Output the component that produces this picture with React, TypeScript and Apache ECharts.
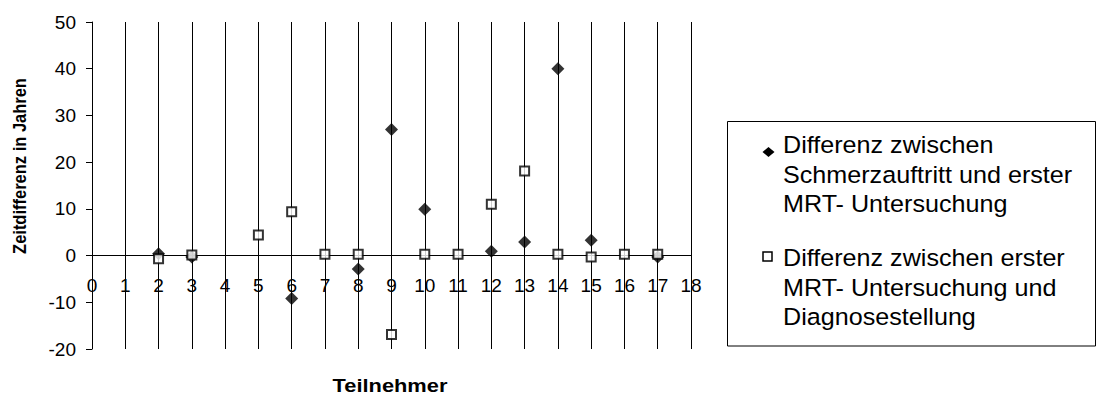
import React, { useEffect, useRef } from "react";
import * as echarts from "echarts";

// Participant numbers and time differences (years)
const painToMriParticipants = [2, 3, 6, 8, 9, 10, 12, 13, 14, 15, 17];
const painToMriYears = [0.4, -0.3, -9.2, -2.9, 27, 9.9, 0.9, 2.9, 40, 3.3, -0.3];

const mriToDiagnosisParticipants = [2, 3, 5, 6, 7, 8, 9, 10, 11, 12, 13, 14, 15, 16, 17];
const mriToDiagnosisYears = [-0.7, 0.1, 4.4, 9.4, 0.3, 0.3, -16.9, 0.3, 0.3, 11, 18.1, 0.3, -0.3, 0.3, 0.3];

const legendLabels = [
  "Differenz zwischen\nSchmerzauftritt und erster\nMRT- Untersuchung",
  "Differenz zwischen erster\nMRT- Untersuchung und\nDiagnosestellung",
];

const xTitle = "Teilnehmer";
const yTitle = "Zeitdifferenz in Jahren";

const Y_MIN = -20;
const Y_MAX = 50;

const FONT = "Arial, 'Liberation Sans', sans-serif";

export default function App() {
  const ref = useRef<HTMLDivElement>(null);

  useEffect(() => {
    if (!ref.current) return;
    const chart = echarts.init(ref.current, undefined, { renderer: "svg" });

    const pairs = (xs: number[], ys: number[]) => xs.map((x, i) => [x, ys[i]]);

    const gridTop = 22;
    const gridBottom = 47;
    const plotHeight = 396 - gridTop - gridBottom;
    // lift the participant axis from the bottom edge up to the zero line
    const zeroOffset = (plotHeight * (0 - Y_MIN)) / (Y_MAX - Y_MIN);

    chart.setOption({
      animation: false,
      backgroundColor: "#ffffff",
      textStyle: { fontFamily: FONT },
      grid: { left: 92, right: 406, top: gridTop, bottom: gridBottom, containLabel: false },
      xAxis: {
        type: "value",
        position: "bottom",
        offset: -zeroOffset,
        min: 0,
        max: 18,
        interval: 1,
        axisLine: { show: true, onZero: false, lineStyle: { color: "#000", width: 1 } },
        axisTick: { show: false },
        axisLabel: {
          color: "#000",
          fontSize: 19,
          fontFamily: FONT,
          margin: 20,
          showMinLabel: true,
          showMaxLabel: true,
        },
        splitLine: { show: true, lineStyle: { color: "#000", width: 1 } },
      },
      yAxis: {
        type: "value",
        min: Y_MIN,
        max: Y_MAX,
        interval: 10,
        axisLine: { show: true, onZero: false, lineStyle: { color: "#000", width: 1 } },
        axisTick: { show: true, length: 6, lineStyle: { color: "#000", width: 1 } },
        axisLabel: { color: "#000", fontSize: 19, fontFamily: FONT, margin: 16 },
        splitLine: { show: false },
      },
      series: [
        {
          name: legendLabels[0],
          type: "scatter",
          symbol: "diamond",
          symbolSize: 13,
          itemStyle: { color: "#000" },
          data: pairs(painToMriParticipants, painToMriYears),
        },
        {
          name: legendLabels[1],
          type: "scatter",
          symbol: "rect",
          symbolSize: 9,
          itemStyle: { color: "#fff", borderColor: "#000", borderWidth: 2 },
          data: pairs(mriToDiagnosisParticipants, mriToDiagnosisYears),
        },
      ],
      graphic: [
        {
          type: "text",
          x: 20,
          y: 166,
          rotation: Math.PI / 2,
          scaleY: 1.15,
          style: {
            text: yTitle,
            fontFamily: FONT,
            fontSize: 16.5,
            fontWeight: "bold",
            fill: "#000",
            align: "center",
            verticalAlign: "middle",
          },
        },
        {
          type: "text",
          x: 390,
          y: 386,
          scaleX: 1.18,
          style: {
            text: xTitle,
            fontFamily: FONT,
            fontSize: 18.5,
            fontWeight: "bold",
            fill: "#000",
            align: "center",
            verticalAlign: "middle",
          },
        },
        // legend frame
        {
          type: "rect",
          shape: { x: 727.5, y: 121.5, width: 368, height: 224.5 },
          style: { fill: "#fff", stroke: "#000", lineWidth: 1 },
        },
        {
          type: "polygon",
          shape: {
            points: [
              [762.5, 152],
              [768.5, 147],
              [774.5, 152],
              [768.5, 157],
            ],
          },
          style: { fill: "#000" },
        },
        {
          type: "rect",
          shape: { x: 763, y: 252, width: 9, height: 9 },
          style: { fill: "#fff", stroke: "#000", lineWidth: 1.5 },
        },
        {
          type: "text",
          x: 783,
          y: 145 - 14.75,
          scaleX: 1.07,
          style: {
            text: legendLabels[0],
            fontFamily: FONT,
            fontSize: 23.5,
            lineHeight: 29.5,
            fill: "#000",
            align: "left",
            verticalAlign: "top",
          },
        },
        {
          type: "text",
          x: 783,
          y: 258 - 14.75,
          scaleX: 1.07,
          style: {
            text: legendLabels[1],
            fontFamily: FONT,
            fontSize: 23.5,
            lineHeight: 29.5,
            fill: "#000",
            align: "left",
            verticalAlign: "top",
          },
        },
      ],
    });

    return () => chart.dispose();
  }, []);

  return (
    <div
      ref={ref}
      style={{ position: "fixed", left: 0, top: 0, width: 1097, height: 396, background: "#fff" }}
    />
  );
}
